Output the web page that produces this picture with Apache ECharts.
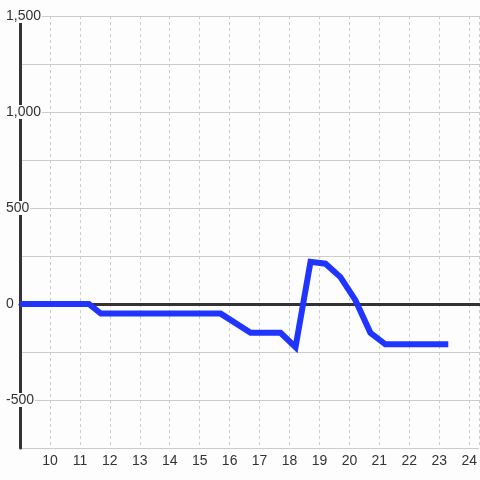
<!DOCTYPE html>
<html>
<head>
<meta charset="utf-8">
<script src="https://cdn.jsdelivr.net/npm/echarts@6/dist/echarts.min.js"></script>
<style>
  html, body { margin: 0; padding: 0; background: #fcfdfc; }
  #chart { width: 480px; height: 480px; }
</style>
</head>
<body>
<div id="chart"></div>
<script>
// x positions (hours) and values of the line
const hours = [9, 11.3, 11.7, 15.7, 16.7, 17.7, 18.2, 18.7, 19.2, 19.7, 20.2, 20.7, 21.2, 23.3]
const values = [0, 0, -50, -50, -150, -150, -225, 220, 210, 140, 20, -150, -210, -210]
// axis ranges
const xRange = [9, 24.33]
const yRange = [-750, 1500]
const yLabelStep = 500

const bg = '#fcfdfc'
const chart = echarts.init(document.getElementById('chart'))

chart.setOption({
  backgroundColor: bg,
  animation: false,
  grid: { left: 20, right: 0, top: 16, bottom: 32 },
  xAxis: [
    {
      // zero line
      type: 'value',
      min: xRange[0],
      max: xRange[1],
      interval: 1,
      axisLine: { show: true, onZero: true, lineStyle: { color: '#333', width: 3 } },
      axisTick: { show: false },
      axisLabel: { show: false },
      splitLine: { show: false }
    },
    {
      // labels + vertical grid at the bottom
      type: 'value',
      position: 'bottom',
      min: xRange[0],
      max: xRange[1],
      interval: 1,
      axisLine: { show: false, onZero: false },
      axisTick: { show: false },
      axisLabel: {
        color: '#333',
        fontSize: 14,
        fontFamily: 'Liberation Sans, Arial, sans-serif',
        margin: 6,
        showMinLabel: false,
        showMaxLabel: false
      },
      splitLine: { show: true, lineStyle: { color: '#ccc', width: 1, type: [3, 3] } }
    }
  ],
  yAxis: {
    type: 'value',
    min: yRange[0],
    max: yRange[1],
    interval: 250,
    axisLine: { show: true, onZero: false, lineStyle: { color: '#333', width: 3 } },
    axisTick: { show: false },
    axisLabel: {
      color: '#333',
      fontSize: 14,
      lineHeight: 14,
      fontFamily: 'Liberation Sans, Arial, sans-serif',
      align: 'left',
      margin: 15,
      backgroundColor: bg,
      padding: [0, 1],
      formatter: (v) => (v % yLabelStep === 0 ? v.toLocaleString('en-US') : '')
    },
    splitLine: { show: true, lineStyle: { color: '#ccc', width: 1 } }
  },
  series: [
    {
      type: 'line',
      xAxisIndex: 0,
      data: hours.map((h, i) => [h, values[i]]),
      showSymbol: false,
      symbol: 'none',
      lineStyle: { color: '#2035ff', width: 6, join: 'miter', cap: 'butt' }
    }
  ]
})
</script>
</body>
</html>
